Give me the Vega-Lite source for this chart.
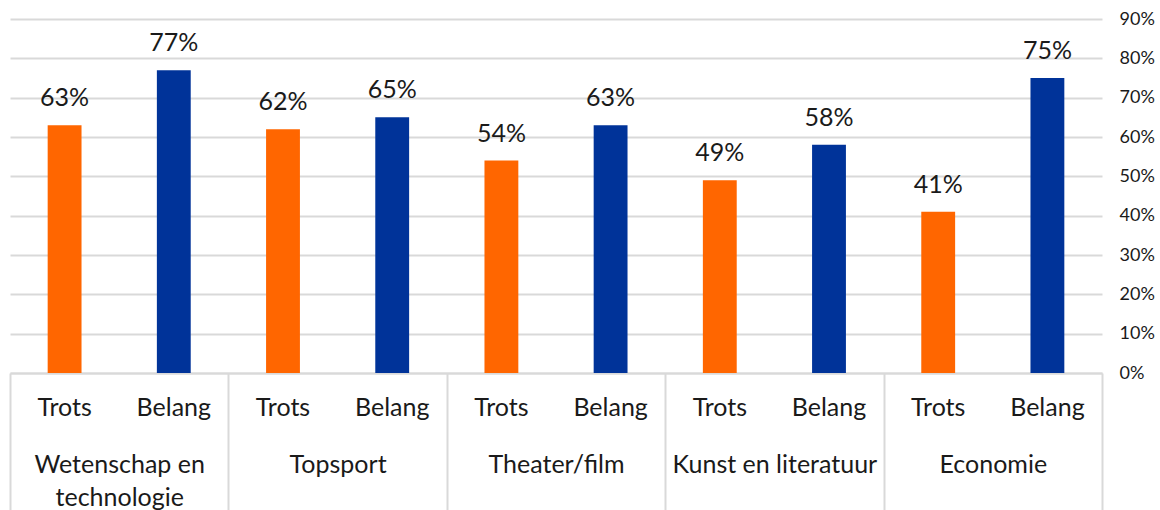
{
  "$schema": "https://vega.github.io/schema/vega-lite/v6.json",
  "width": 1092,
  "height": 354,
  "autosize": {"type": "none"},
  "padding": {"left": 10, "top": 19, "right": 58, "bottom": 137},
  "config": {
    "view": {"stroke": null},
    "font": "Lato",
    "axisY": {
      "title": null,
      "orient": "right",
      "format": ".0%",
      "grid": true,
      "gridColor": "#d9d9d9",
      "gridWidth": 2,
      "ticks": false,
      "domain": false,
      "labelPadding": 17,
      "labelFontSize": 18,
      "labelColor": "#1a1a1a",
      "labelOverlap": false,
      "labelBound": false,
      "labelFlush": false
    }
  },
  "data": {
    "values": [
      {"groep": "Wetenschap en technologie", "soort": "Trots", "waarde": 0.63},
      {"groep": "Wetenschap en technologie", "soort": "Belang", "waarde": 0.77},
      {"groep": "Topsport", "soort": "Trots", "waarde": 0.62},
      {"groep": "Topsport", "soort": "Belang", "waarde": 0.65},
      {"groep": "Theater/film", "soort": "Trots", "waarde": 0.54},
      {"groep": "Theater/film", "soort": "Belang", "waarde": 0.63},
      {"groep": "Kunst en literatuur", "soort": "Trots", "waarde": 0.49},
      {"groep": "Kunst en literatuur", "soort": "Belang", "waarde": 0.58},
      {"groep": "Economie", "soort": "Trots", "waarde": 0.41},
      {"groep": "Economie", "soort": "Belang", "waarde": 0.75}
    ]
  },
  "encoding": {
    "x": {
      "field": "groep",
      "type": "nominal",
      "sort": null,
      "scale": {"paddingInner": 0, "paddingOuter": 0},
      "axis": {
        "title": null,
        "orient": "bottom",
        "tickBand": "extent",
        "tickSize": 137,
        "tickColor": "#d9d9d9",
        "tickWidth": 2,
        "domainColor": "#d9d9d9",
        "domainWidth": 2,
        "labelPadding": -58,
        "labelFontSize": 25,
        "labelColor": "#1a1a1a",
        "labelAngle": 0,
        "labelBaseline": "top",
        "labelLineHeight": 33,
        "labelLimit": 0,
        "labelOverlap": false,
        "labelExpr": "datum.value == 'Wetenschap en technologie' ? ['Wetenschap en', 'technologie'] : datum.value",
        "grid": false
      }
    },
    "xOffset": {
      "field": "soort",
      "type": "nominal",
      "sort": ["Trots", "Belang"],
      "scale": {"paddingInner": 0.69, "paddingOuter": 0.345}
    }
  },
  "layer": [
    {
      "mark": {"type": "bar"},
      "encoding": {
        "y": {
          "field": "waarde",
          "type": "quantitative",
          "scale": {"domain": [0, 0.9], "nice": false},
          "axis": {"values": [0, 0.1, 0.2, 0.3, 0.4, 0.5, 0.6, 0.7, 0.8, 0.9]}
        },
        "color": {
          "field": "soort",
          "type": "nominal",
          "scale": {"domain": ["Trots", "Belang"], "range": ["#FF6600", "#003399"]},
          "legend": null
        }
      }
    },
    {
      "mark": {"type": "text", "baseline": "alphabetic", "dy": -19, "fontSize": 25, "color": "#1a1a1a"},
      "encoding": {
        "y": {
          "field": "waarde",
          "type": "quantitative",
          "axis": {"values": [0, 0.1, 0.2, 0.3, 0.4, 0.5, 0.6, 0.7, 0.8, 0.9]}
        },
        "text": {"field": "waarde", "type": "quantitative", "format": ".0%"}
      }
    },
    {
      "mark": {"type": "text", "baseline": "middle", "dy": 35, "fontSize": 25, "color": "#1a1a1a"},
      "encoding": {
        "y": {
          "datum": 0,
          "type": "quantitative",
          "axis": {"values": [0, 0.1, 0.2, 0.3, 0.4, 0.5, 0.6, 0.7, 0.8, 0.9]}
        },
        "text": {"field": "soort", "type": "nominal"}
      }
    }
  ]
}
